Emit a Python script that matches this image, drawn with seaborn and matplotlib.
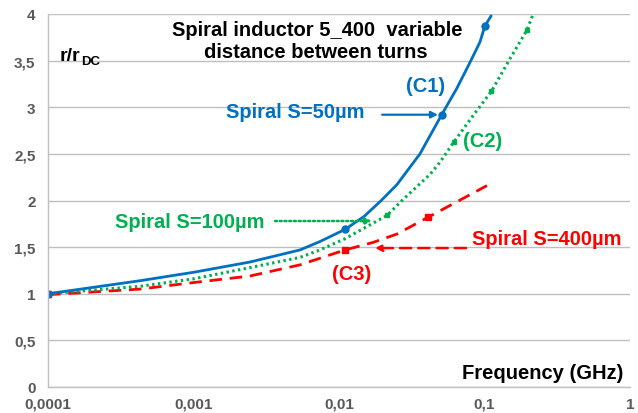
import numpy as np
import pandas as pd
import seaborn as sns
import matplotlib.pyplot as plt

# values (frequency in GHz, r/rDC)
freq_c1 = [0.0001, 0.00043, 0.001, 0.00244, 0.0054, 0.0074, 0.011, 0.0149, 0.0195, 0.025, 0.036,
           0.0508, 0.0644, 0.0794, 0.0931, 0.1005, 0.111]
ratio_c1 = [1.00, 1.14, 1.23, 1.34, 1.47, 1.56, 1.69, 1.83, 2.00, 2.17, 2.50,
            2.92, 3.20, 3.48, 3.70, 3.87, 3.98]
mark_c1_f = [0.0001, 0.011, 0.0508, 0.1005]
mark_c1_r = [1.00, 1.69, 2.92, 3.87]

freq_c2 = [0.0001, 0.00043, 0.001, 0.00244, 0.0054, 0.0074, 0.011, 0.0214, 0.0271, 0.0422, 0.0494,
           0.0617, 0.0834, 0.1115, 0.1496, 0.196, 0.2136]
ratio_c2 = [1.00, 1.08, 1.16, 1.28, 1.39, 1.47, 1.59, 1.84, 2.00, 2.28, 2.41,
            2.63, 2.91, 3.17, 3.52, 3.83, 3.98]
mark_c2_f = [0.0001, 0.0214, 0.0617, 0.1115, 0.196]
mark_c2_r = [1.00, 1.84, 2.63, 3.17, 3.83]

freq_c3 = [0.0001, 0.00043, 0.001, 0.00244, 0.0054, 0.011, 0.0171, 0.025, 0.0409, 0.104]
ratio_c3 = [0.99, 1.05, 1.12, 1.19, 1.31, 1.47, 1.55, 1.64, 1.82, 2.16]
mark_c3_f = [0.0001, 0.011, 0.0409]
mark_c3_r = [1.00, 1.47, 1.82]

y_ticks = [0, 0.5, 1, 1.5, 2, 2.5, 3, 3.5, 4]
y_labels = ['0', '0,5', '1', '1,5', '2', '2,5', '3', '3,5', '4']
x_ticks = [0.0001, 0.001, 0.01, 0.1, 1]
x_labels = ['0,0001', '0,001', '0,01', '0,1', '1']

BLUE = '#0070C0'
GREEN = '#00B050'
RED = '#FF0000'
GREY = '#595959'

sns.set_style('white')
plt.rcParams['font.family'] = ['Liberation Sans', 'DejaVu Sans']

W, H = 638, 414
fig = plt.figure(figsize=(W / 100, H / 100), dpi=100)
ax = fig.add_axes([48 / W, 1 - 388 / H, (630 - 48) / W, (388 - 15) / H])

c1 = pd.DataFrame({'f': freq_c1, 'r': ratio_c1})
c2 = pd.DataFrame({'f': freq_c2, 'r': ratio_c2})
c3 = pd.DataFrame({'f': freq_c3, 'r': ratio_c3})

sns.lineplot(data=c3, x='f', y='r', ax=ax, color=RED, lw=2.0, sort=False,
             linestyle=(0, (4.5, 2.8)))
sns.lineplot(data=c2, x='f', y='r', ax=ax, color=GREEN, lw=2.2, sort=False,
             linestyle=(0, (0.8, 1.1)))
sns.lineplot(data=c1, x='f', y='r', ax=ax, color=BLUE, lw=2.0, sort=False)
for line in ax.lines:
    line.set_dash_capstyle('butt')
    line.set_solid_joinstyle('round')

ax.plot(mark_c3_f, mark_c3_r, ls='none', marker='s', ms=5, color=RED)
ax.plot(mark_c2_f, mark_c2_r, ls='none', marker='s', ms=3.5, color=GREEN)
ax.plot(mark_c1_f, mark_c1_r, ls='none', marker='o', ms=5, color=BLUE)

ax.set_xscale('log')
ax.set_xlim(0.0001, 1)
ax.set_ylim(0, 4)
ax.set_xticks(x_ticks)
ax.set_xticklabels(x_labels)
ax.minorticks_off()
ax.set_yticks(y_ticks)
ax.set_yticklabels(y_labels)
ax.tick_params(length=0, labelsize=11, labelcolor=GREY)
ax.tick_params(axis='x', pad=7)
ax.tick_params(axis='y', pad=9)
for lab in ax.get_xticklabels() + ax.get_yticklabels():
    lab.set_fontweight('bold')
ax.set_xlabel('')
ax.set_ylabel('')
ax.grid(axis='y', color='#BFBFBF', lw=1)
ax.grid(axis='x', visible=False)
for s in ['top', 'right']:
    ax.spines[s].set_visible(False)
for s in ['left', 'bottom']:
    ax.spines[s].set_color('#BFBFBF')
    ax.spines[s].set_linewidth(1)
ax.set_axisbelow(True)


def ftext(px, py, s, color='black', size=14.5, **kw):
    fig.text(px / W, 1 - py / H, s, color=color, fontsize=size, fontweight='bold',
             ha=kw.pop('ha', 'center'), va=kw.pop('va', 'center'), **kw)


ftext(317, 30, 'Spiral inductor 5_400  variable')
ftext(316, 52, 'distance between turns')
ftext(60, 57, 'r/r', size=14, ha='left')
ftext(81, 62, 'DC', size=9.5, ha='left')
ftext(426, 87, '(C1)', color=BLUE)
ftext(295, 112, 'Spiral S=50µm', color=BLUE)
ftext(483, 142, '(C2)', color=GREEN)
ftext(190, 223, 'Spiral S=100µm', color=GREEN)
ftext(547, 240, 'Spiral S=400µm', color=RED)
ftext(352, 274, '(C3)', color=RED)
ftext(543, 374, 'Frequency (GHz)')

# annotation arrows
ax.annotate('', xy=(0.0479, 2.92), xytext=(0.0198, 2.92),
            arrowprops=dict(arrowstyle='-|>', color=BLUE, lw=1.6, mutation_scale=10,
                            shrinkA=0, shrinkB=0))
ax.annotate('', xy=(0.01686, 1.78), xytext=(0.00363, 1.78),
            arrowprops=dict(arrowstyle='-|>', color=GREEN, lw=1.8, ls=(0, (0.8, 1.1)),
                            mutation_scale=10, shrinkA=0, shrinkB=0))
ax.annotate('', xy=(0.01767, 1.49), xytext=(0.0746, 1.49),
            arrowprops=dict(arrowstyle='-|>', color=RED, lw=1.8, ls=(0, (4.5, 2.8)),
                            mutation_scale=10, shrinkA=0, shrinkB=0))

fig.savefig('out.png', dpi=100)
